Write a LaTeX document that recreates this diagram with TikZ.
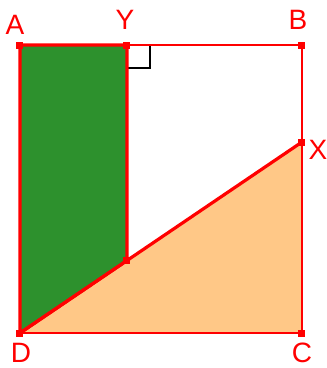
\documentclass[tikz,border=0pt]{standalone}
\usepackage{fontspec}
\setmainfont{Liberation Sans}
\usetikzlibrary{positioning,calc}
\definecolor{edge}{RGB}{255,0,0}
\definecolor{leaf}{RGB}{45,145,45}
\definecolor{peach}{RGB}{255,200,135}
\tikzset{
  x=1pt, y=-1pt,
  side/.style={draw=edge, line width=2pt},
  thick side/.style={draw=edge, line width=3.2pt, line join=round},
  dot/.style={fill=edge, minimum size=7pt, inner sep=0pt},
  lbl/.style={text=edge, font=\fontsize{28}{30}\selectfont, inner sep=0pt},
  rt/.style={draw=black, line width=1.5pt},
}
\begin{document}
\begin{tikzpicture}
  \useasboundingbox (0,0) rectangle (327,368);
  % corners of the square and the points on its sides
  \coordinate (A) at (20,45);
  \coordinate (Y) at (127,45);
  \coordinate (B) at (302,45);
  \coordinate (X) at (302,142);
  \coordinate (C) at (302,333);
  \coordinate (D) at (20,333);
  \coordinate (P) at ($(D)!107/282!(X)$);
  % shaded regions
  \fill[peach] (D) -- (X) -- (C) -- cycle;
  \fill[leaf] (A) -- (Y) -- (P) -- (D) -- cycle;
  % right angle at Y
  \draw[rt] (127,68) -- (150,68) -- (150,45);
  % outline
  \draw[side] (A) -- (B) -- (C) -- (D) -- cycle;
  \draw[thick side] (A) -- (Y) -- (P) -- (D) -- cycle;
  \draw[thick side] (D) -- (X);
  \foreach \p in {A,Y,B,X,C,D,P}
    \node[dot] at (\p) {};
  % labels
  \node[lbl] (lA) at (15,25) {A};
  \node[lbl] (lY) at (125,20) {Y};
  \node[lbl] (lB) at (298,20) {B};
  \node[lbl] (lX) at (318,150) {X};
  \node[lbl] (lD) at (21,353) {D};
  \node[lbl] (lC) at (302,353) {C};
\end{tikzpicture}
\end{document}
